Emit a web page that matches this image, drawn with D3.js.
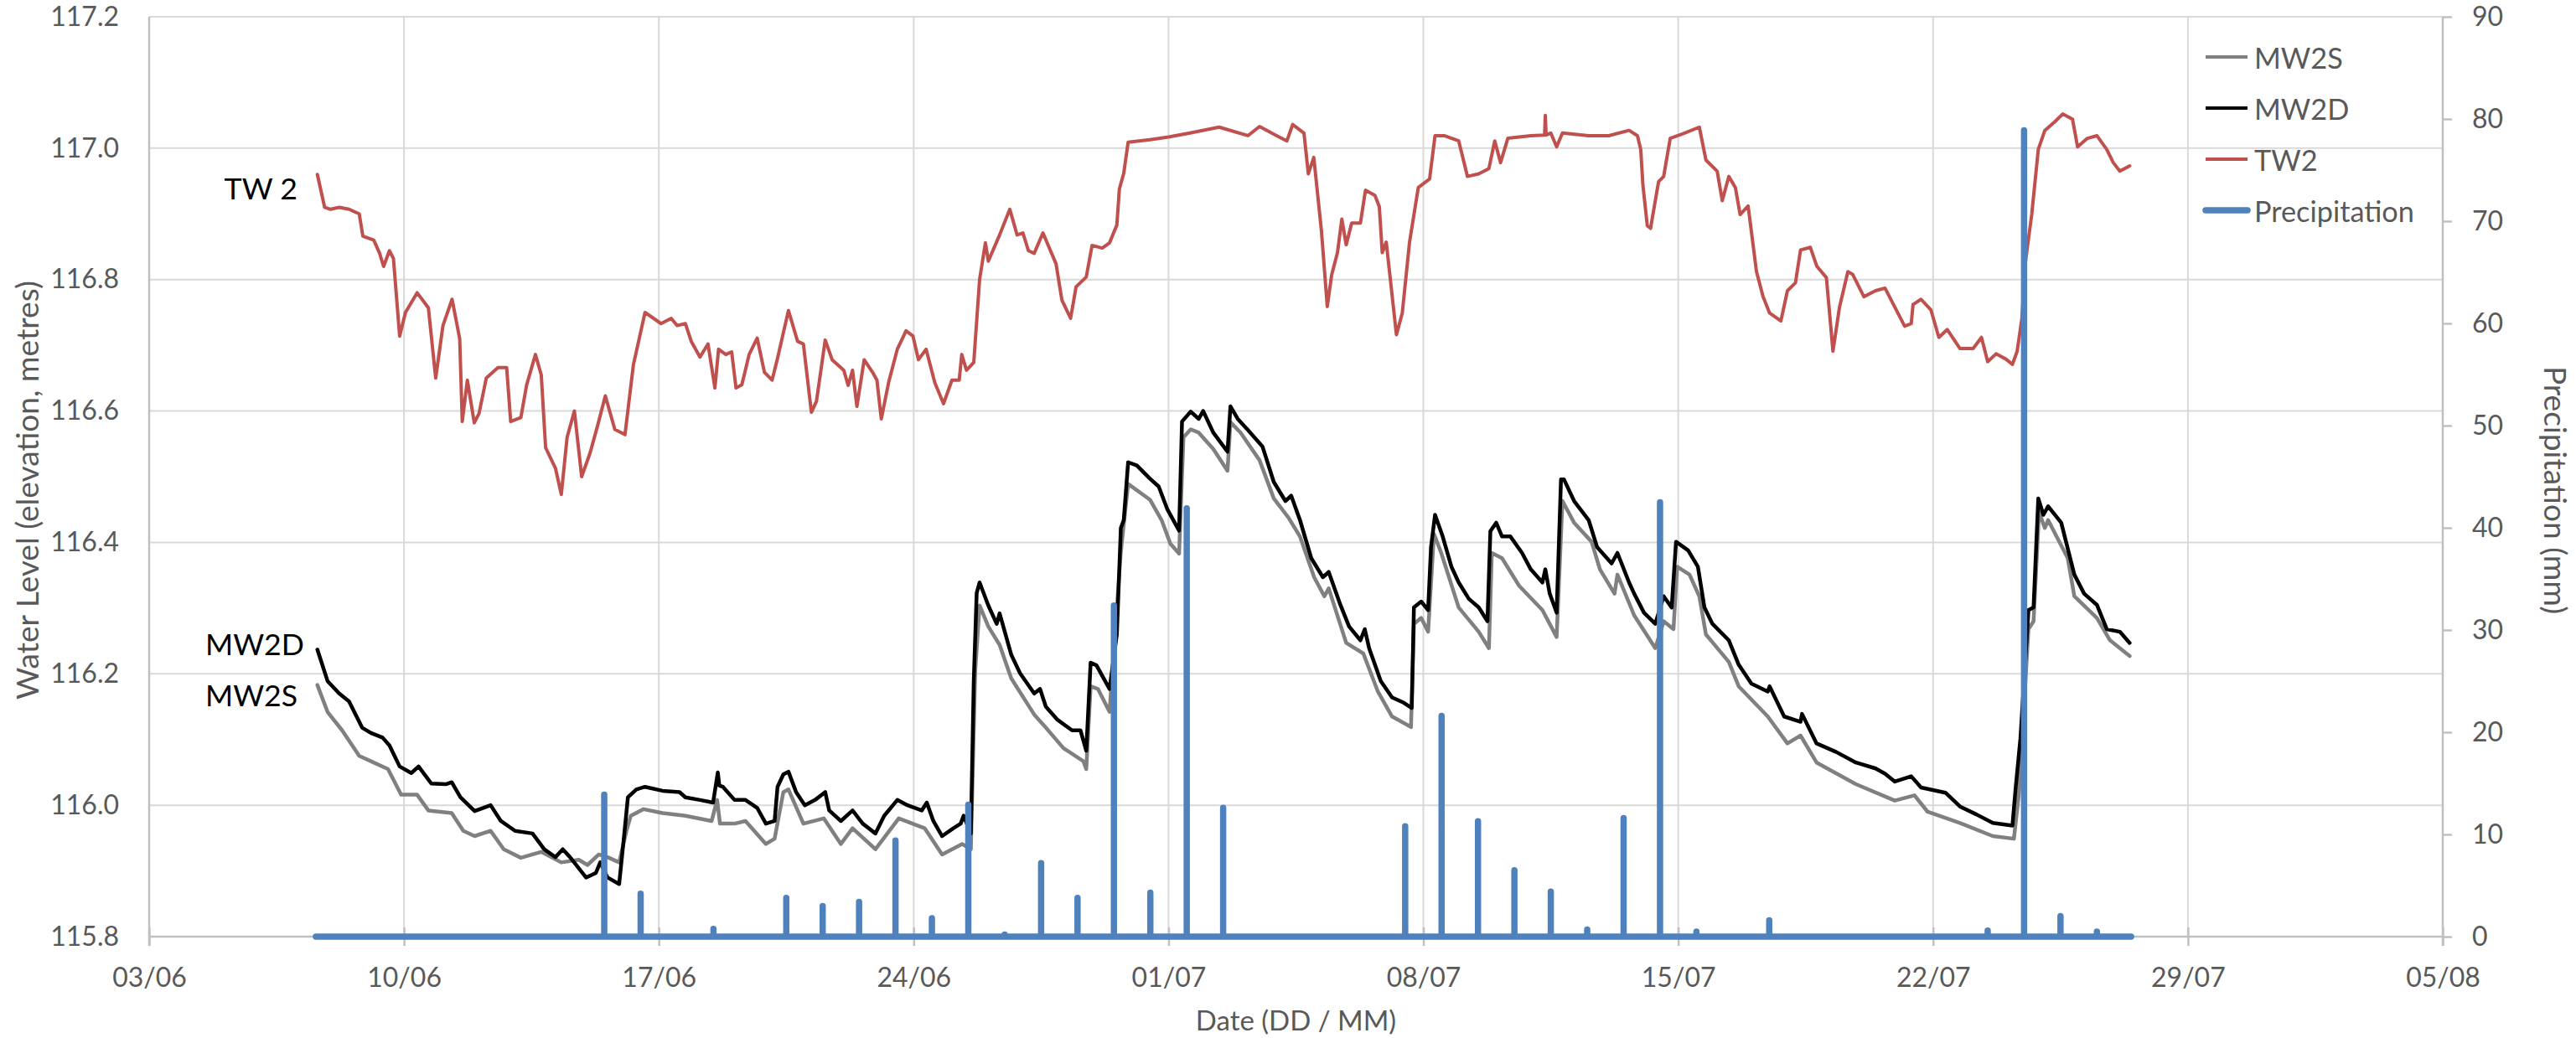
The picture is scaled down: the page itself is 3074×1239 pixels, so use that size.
<!DOCTYPE html>
<html>
<head>
<meta charset="utf-8">
<script src="https://cdn.jsdelivr.net/npm/d3@7"></script>
<style>
  html, body { margin: 0; padding: 0; background: #fff; }
  svg { display: block; }
  text { font-family: Lato, "Open Sans", sans-serif; }
</style>
</head>
<body>
<svg id="chart" width="3074" height="1239"></svg>
<script>
// ---------------- DATA ----------------
const year = 2015;
const xTickLabels = ["03/06","10/06","17/06","24/06","01/07","08/07","15/07","22/07","29/07","05/08"];
const levelTicks = [115.8,116.0,116.2,116.4,116.6,116.8,117.0,117.2];
const precipTicks = [0,10,20,30,40,50,60,70,80,90];

// Logger readings: [elapsed days since 03/06 00:00, water level (m)]
const tw2 = [
 [4.62,116.96],[4.82,116.91],[4.98,116.907],[5.22,116.91],[5.49,116.907],[5.77,116.90],[5.87,116.866],
 [6.17,116.86],[6.33,116.84],[6.44,116.82],[6.6,116.844],[6.71,116.832],[6.88,116.714],[7.04,116.75],
 [7.36,116.78],[7.67,116.757],[7.87,116.65],[8.07,116.73],[8.32,116.77],[8.53,116.71],[8.6,116.584],
 [8.74,116.647],[8.93,116.582],[9.06,116.596],[9.26,116.65],[9.58,116.666],[9.82,116.666],[9.93,116.584],
 [10.21,116.59],[10.37,116.64],[10.61,116.686],[10.77,116.655],[10.89,116.544],[11.16,116.513],[11.32,116.473],
 [11.48,116.56],[11.68,116.60],[11.88,116.50],[12.11,116.536],[12.31,116.576],[12.53,116.623],[12.79,116.572],
 [13.07,116.564],[13.30,116.67],[13.62,116.75],[14.06,116.733],[14.34,116.741],[14.5,116.73],[14.73,116.733],
 [14.89,116.706],[15.13,116.682],[15.35,116.702],[15.54,116.635],[15.64,116.694],[15.84,116.686],[16.0,116.69],
 [16.12,116.635],[16.28,116.64],[16.48,116.686],[16.70,116.711],[16.9,116.659],[17.11,116.647],[17.25,116.678],
 [17.56,116.753],[17.81,116.706],[17.97,116.702],[18.19,116.598],[18.33,116.615],[18.57,116.708],[18.76,116.678],
 [19.08,116.662],[19.2,116.639],[19.32,116.662],[19.44,116.607],[19.64,116.678],[19.87,116.659],[19.99,116.647],
 [20.11,116.588],[20.31,116.643],[20.55,116.694],[20.79,116.722],[20.98,116.714],[21.13,116.678],[21.34,116.694],
 [21.58,116.643],[21.82,116.611],[22.05,116.647],[22.25,116.647],[22.32,116.686],[22.45,116.662],[22.65,116.674],
 [22.81,116.80],[22.97,116.856],[23.05,116.828],[23.36,116.868],[23.64,116.907],[23.84,116.868],[24.0,116.871],
 [24.15,116.844],[24.31,116.84],[24.55,116.871],[24.91,116.824],[25.07,116.769],[25.31,116.741],[25.46,116.789],
 [25.74,116.804],[25.9,116.852],[26.18,116.848],[26.38,116.856],[26.58,116.883],[26.65,116.938],[26.77,116.962],
 [26.89,117.009],[27.49,117.013],[28.0,117.017],[28.59,117.023],[29.39,117.032],[30.18,117.019],[30.5,117.033],
 [30.97,117.019],[31.25,117.011],[31.41,117.036],[31.72,117.023],[31.84,116.961],[31.99,116.986],[32.2,116.874],
 [32.36,116.759],[32.48,116.807],[32.64,116.841],[32.76,116.892],[32.88,116.853],[33.03,116.886],[33.27,116.886],
 [33.41,116.936],[33.67,116.928],[33.79,116.911],[33.87,116.841],[33.98,116.857],[34.26,116.716],[34.42,116.749],
 [34.62,116.857],[34.86,116.94],[35.17,116.953],[35.32,117.019],[35.57,117.019],[35.97,117.011],[36.21,116.957],
 [36.52,116.961],[36.8,116.969],[36.96,117.011],[37.12,116.978],[37.32,117.015],[37.95,117.019],[38.33,117.02],
 [38.35,117.05],[38.37,117.02],[38.5,117.023],[38.66,117.002],[38.82,117.023],[39.54,117.019],[40.09,117.019],
 [40.65,117.027],[40.88,117.019],[40.97,116.998],[41.03,116.944],[41.15,116.882],[41.24,116.878],[41.46,116.949],
 [41.6,116.957],[41.78,117.015],[42.13,117.022],[42.58,117.032],[42.76,116.982],[43.07,116.965],[43.21,116.92],
 [43.39,116.957],[43.57,116.94],[43.7,116.899],[43.92,116.912],[44.15,116.812],[44.33,116.774],[44.51,116.749],
 [44.82,116.737],[45.0,116.783],[45.22,116.795],[45.36,116.845],[45.63,116.849],[45.81,116.82],[46.07,116.803],
 [46.25,116.691],[46.43,116.758],[46.66,116.812],[46.79,116.808],[47.1,116.774],[47.42,116.783],[47.68,116.787],
 [47.95,116.758],[48.22,116.729],[48.4,116.733],[48.45,116.762],[48.67,116.77],[48.94,116.754],[49.16,116.712],
 [49.39,116.724],[49.74,116.695],[50.1,116.695],[50.33,116.712],[50.5,116.675],[50.73,116.687],[51.0,116.679],
 [51.18,116.671],[51.31,116.691],[51.44,116.741],[51.53,116.824],[51.71,116.899],[51.89,116.998],[52.07,117.027],
 [52.34,117.04],[52.56,117.052],[52.83,117.044],[52.97,117.002],[53.24,117.015],[53.5,117.019],[53.77,116.998],
 [53.95,116.978],[54.13,116.965],[54.4,116.973]
];

const mw2d = [
 [4.62,116.237],[4.9,116.189],[5.22,116.17],[5.49,116.158],[5.85,116.118],[6.09,116.11],[6.41,116.103],
 [6.6,116.091],[6.88,116.059],[7.2,116.049],[7.4,116.059],[7.75,116.033],[8.15,116.032],[8.31,116.035],
 [8.55,116.012],[8.94,115.991],[9.38,116.0],[9.66,115.976],[10.05,115.961],[10.53,115.957],[10.85,115.933],
 [11.16,115.921],[11.36,115.933],[11.56,115.921],[12.0,115.89],[12.27,115.897],[12.39,115.913],[12.59,115.89],
 [12.91,115.88],[13.03,115.945],[13.15,116.012],[13.38,116.024],[13.62,116.028],[14.1,116.022],[14.57,116.02],
 [14.73,116.012],[15.13,116.008],[15.49,116.004],[15.62,116.05],[15.66,116.03],[15.76,116.028],[16.08,116.008],
 [16.38,116.008],[16.70,115.996],[16.94,115.972],[17.18,115.976],[17.26,116.028],[17.42,116.047],[17.56,116.051],
 [17.77,116.02],[18.01,116.0],[18.29,116.008],[18.57,116.02],[18.68,115.992],[19.0,115.976],[19.32,115.992],
 [19.6,115.972],[19.95,115.957],[20.19,115.984],[20.55,116.008],[20.83,116.0],[21.22,115.992],[21.36,116.004],
 [21.54,115.976],[21.78,115.953],[22.09,115.965],[22.29,115.972],[22.37,115.984],[22.57,115.957],[22.65,116.189],
 [22.73,116.323],[22.81,116.339],[23.05,116.304],[23.28,116.276],[23.36,116.292],[23.68,116.229],[23.92,116.201],
 [24.31,116.17],[24.47,116.177],[24.63,116.15],[24.95,116.13],[25.35,116.114],[25.58,116.114],[25.74,116.083],
 [25.86,116.217],[26.02,116.213],[26.3,116.185],[26.38,116.177],[26.58,116.26],[26.69,116.422],[26.77,116.434],
 [26.89,116.522],[27.13,116.517],[27.49,116.497],[27.73,116.485],[27.97,116.45],[28.29,116.418],[28.37,116.584],
 [28.61,116.599],[28.83,116.588],[28.95,116.6],[29.23,116.567],[29.46,116.55],[29.62,116.538],[29.7,116.607],
 [29.9,116.588],[30.18,116.571],[30.58,116.546],[30.89,116.492],[31.21,116.463],[31.37,116.471],[31.61,116.434],
 [31.92,116.376],[32.24,116.347],[32.4,116.355],[32.72,116.305],[32.96,116.272],[33.27,116.251],[33.39,116.268],
 [33.51,116.239],[33.83,116.189],[34.14,116.164],[34.46,116.156],[34.68,116.148],[34.74,116.301],[34.94,116.31],
 [35.13,116.297],[35.21,116.393],[35.32,116.442],[35.53,116.409],[35.77,116.363],[35.97,116.339],[36.25,116.314],
 [36.52,116.301],[36.76,116.28],[36.84,116.417],[37.0,116.43],[37.16,116.409],[37.39,116.409],[37.71,116.384],
 [37.95,116.359],[38.27,116.339],[38.35,116.359],[38.47,116.322],[38.66,116.293],[38.78,116.496],[38.86,116.496],
 [39.14,116.463],[39.54,116.434],[39.77,116.393],[40.17,116.368],[40.33,116.384],[40.65,116.339],[40.79,116.322],
 [41.06,116.293],[41.37,116.276],[41.6,116.318],[41.82,116.301],[41.94,116.401],[42.27,116.388],[42.54,116.363],
 [42.72,116.301],[42.94,116.276],[43.39,116.251],[43.66,116.214],[44.01,116.185],[44.46,116.173],[44.51,116.181],
 [44.91,116.135],[45.36,116.127],[45.4,116.139],[45.8,116.094],[46.34,116.081],[46.88,116.065],[47.42,116.056],
 [47.68,116.048],[47.95,116.036],[48.4,116.044],[48.67,116.027],[49.34,116.019],[49.74,115.998],[50.19,115.986],
 [50.64,115.973],[51.18,115.969],[51.27,116.027],[51.4,116.102],[51.62,116.297],[51.76,116.301],[51.89,116.467],
 [52.03,116.442],[52.16,116.455],[52.52,116.43],[52.88,116.351],[53.15,116.322],[53.5,116.305],[53.77,116.268],
 [54.13,116.264],[54.4,116.247]
];

const mw2s = [
 [4.62,116.183],[4.9,116.142],[5.3,116.114],[5.77,116.075],[6.09,116.067],[6.56,116.055],[6.92,116.016],
 [7.36,116.016],[7.67,115.992],[8.31,115.988],[8.63,115.961],[8.94,115.953],[9.38,115.961],[9.74,115.933],
 [10.21,115.92],[10.77,115.929],[11.32,115.913],[11.8,115.917],[12.04,115.909],[12.35,115.925],[12.59,115.921],
 [12.91,115.913],[13.11,115.961],[13.23,115.984],[13.58,115.994],[14.1,115.988],[14.73,115.984],[15.45,115.976],
 [15.6,116.008],[15.68,115.972],[16.08,115.972],[16.38,115.976],[16.94,115.941],[17.18,115.949],[17.42,116.02],
 [17.56,116.024],[17.97,115.972],[18.53,115.98],[19.0,115.941],[19.32,115.965],[19.95,115.933],[20.59,115.98],
 [21.3,115.965],[21.78,115.925],[22.33,115.941],[22.57,115.933],[22.69,116.205],[22.81,116.304],[23.05,116.272],
 [23.36,116.244],[23.68,116.193],[24.31,116.138],[24.63,116.118],[25.11,116.087],[25.66,116.067],[25.74,116.055],
 [25.86,116.181],[26.06,116.177],[26.38,116.142],[26.69,116.386],[26.89,116.489],[27.49,116.465],[27.81,116.434],
 [28.05,116.398],[28.29,116.383],[28.41,116.56],[28.61,116.572],[28.83,116.567],[29.23,116.542],[29.62,116.509],
 [29.7,116.583],[29.98,116.567],[30.5,116.525],[30.89,116.467],[31.29,116.438],[31.61,116.409],[32.0,116.347],
 [32.28,116.318],[32.4,116.33],[32.88,116.247],[33.35,116.231],[33.75,116.173],[34.14,116.135],[34.66,116.119],
 [34.74,116.276],[34.94,116.285],[35.13,116.264],[35.29,116.413],[35.49,116.384],[35.97,116.301],[36.52,116.264],
 [36.8,116.239],[36.88,116.384],[37.16,116.376],[37.63,116.334],[38.27,116.297],[38.66,116.256],[38.82,116.463],
 [39.14,116.43],[39.62,116.401],[39.85,116.359],[40.25,116.322],[40.33,116.351],[40.79,116.289],[41.37,116.239],
 [41.6,116.28],[41.87,116.268],[41.97,116.363],[42.31,116.351],[42.58,116.318],[42.76,116.26],[43.39,116.218],
 [43.66,116.181],[44.46,116.135],[45.0,116.094],[45.36,116.106],[45.8,116.065],[46.88,116.032],[47.95,116.007],
 [48.49,116.015],[48.85,115.99],[49.74,115.973],[50.64,115.953],[51.22,115.949],[51.36,116.019],[51.62,116.268],
 [51.76,116.28],[51.91,116.446],[52.07,116.422],[52.16,116.434],[52.7,116.376],[52.88,116.318],[53.5,116.285],
 [53.86,116.251],[54.4,116.227]
];

// Daily precipitation (mm), plotted at noon of each day
const precipDates = ["15/06","16/06","18/06","20/06","21/06","22/06","23/06","24/06","25/06","26/06",
  "27/06","28/06","29/06","30/06","01/07","02/07","07/07","08/07","09/07","10/07",
  "11/07","12/07","13/07","14/07","15/07","17/07","23/07","24/07","25/07","26/07"];
const precipMM = [13.9,4.2,0.75,3.8,3.0,3.4,9.4,1.8,12.9,0.2,
  7.2,3.8,32.4,4.3,41.9,12.6,10.8,21.6,11.3,6.5,
  4.4,0.7,11.6,42.5,0.5,1.6,0.6,78.9,2.0,0.5];
const recordSpan = [4.58, 54.44]; // first / last logged reading, days since 03/06

const seriesNames = ["MW2S","MW2D","TW2","Precipitation"];
const seriesColors = ["#808080","#000000","#C0504D","#4F81BD"];

// ---------------- CHART ----------------
const m = {left: 178, right: 2915, top: 20, bottom: 1118};
const svg = d3.select("#chart");
const parseDM = s => d3.timeParse("%d/%m/%Y")(s + "/" + year);
const t0 = parseDM("03/06");
const dayToDate = d => new Date(t0.getTime() + d * 86400000);

const x = d3.scaleTime().domain([parseDM(xTickLabels[0]), parseDM(xTickLabels[xTickLabels.length-1])]).range([m.left, m.right]);
const yL = d3.scaleLinear().domain([115.8, 117.2]).range([m.bottom, m.top]);
const yR = d3.scaleLinear().domain([0, 90]).range([m.bottom, m.top]);
const xTicks = xTickLabels.map(parseDM);

const gridColor = "#d9d9d9", axisColor = "#c0c0c0", labelColor = "#595959";

// gridlines
svg.append("g").selectAll("line").data(levelTicks).join("line")
  .attr("x1", m.left).attr("x2", m.right)
  .attr("y1", d => yL(d)).attr("y2", d => yL(d))
  .attr("stroke", gridColor).attr("stroke-width", 2);
svg.append("g").selectAll("line").data(xTicks).join("line")
  .attr("x1", d => x(d)).attr("x2", d => x(d))
  .attr("y1", m.top).attr("y2", m.bottom)
  .attr("stroke", gridColor).attr("stroke-width", 2);

// axes
const fmt1 = d3.format(".1f");
const gx = svg.append("g").attr("transform", `translate(0,${m.bottom})`)
  .call(d3.axisBottom(x).tickValues(xTicks).tickFormat((d,i) => xTickLabels[i]).tickSize(11).tickPadding(26));
const gl = svg.append("g").attr("transform", `translate(${m.left},0)`)
  .call(d3.axisLeft(yL).tickValues(levelTicks).tickFormat(fmt1).tickSize(0).tickPadding(36));
const gr = svg.append("g").attr("transform", `translate(${m.right},0)`)
  .call(d3.axisRight(yR).tickValues(precipTicks).tickSize(11).tickPadding(24));
[gx, gl, gr].forEach(g => {
  g.select(".domain").attr("stroke", axisColor).attr("stroke-width", 2.5);
  g.selectAll(".tick line").attr("stroke", axisColor).attr("stroke-width", 2.5);
  g.selectAll(".tick text").attr("fill", labelColor).attr("font-size", 32)
    .attr("font-family", "Lato, sans-serif");
});
gx.selectAll(".tick line").attr("y1", -11);
gx.select(".domain").attr("d", `M${m.left},0H${m.right}`);
gl.select(".domain").attr("d", `M0,${m.top}V${m.bottom + 11}`);
gr.select(".domain").attr("d", `M0,${m.top}V${m.bottom + 11}`);

// level lines
const lvlLine = d3.line().x(d => x(dayToDate(d[0]))).y(d => yL(d[1]));
const drawSeries = (data, color, w) => svg.append("path").datum(data)
  .attr("d", lvlLine).attr("fill", "none").attr("stroke", color)
  .attr("stroke-width", w).attr("stroke-linejoin", "round").attr("stroke-linecap", "round");
drawSeries(mw2s, seriesColors[0], 4.5);
drawSeries(mw2d, seriesColors[1], 4.5);
drawSeries(tw2, seriesColors[2], 4);

// precipitation as a spiky line on the secondary axis
const precipPts = [[dayToDate(recordSpan[0]), 0]];
precipDates.forEach((s, i) => {
  const t = d3.timeHour.offset(parseDM(s), 12);
  precipPts.push([t, 0], [t, precipMM[i]], [t, 0]);
});
precipPts.push([dayToDate(recordSpan[1]), 0]);
svg.append("path").datum(precipPts)
  .attr("d", d3.line().x(d => x(d[0])).y(d => yR(d[1])))
  .attr("fill", "none").attr("stroke", seriesColors[3]).attr("stroke-width", 7.5)
  .attr("stroke-linejoin", "round").attr("stroke-linecap", "round");

function fit(sel, target) {
  const fs = +sel.attr("font-size");
  const w = sel.node().getComputedTextLength();
  sel.attr("font-size", fs * target / w);
  return +sel.attr("font-size");
}

// axis titles
svg.append("text").attr("x", (m.left + m.right) / 2).attr("y", 1230)
  .attr("text-anchor", "middle")
  .attr("fill", labelColor).attr("font-size", 33).text("Date (DD / MM)");
const ylt = svg.append("text").attr("transform", "translate(31,585) rotate(-90)")
  .attr("text-anchor", "middle").attr("dominant-baseline", "central")
  .attr("fill", labelColor).attr("font-size", 34).text("Water Level (elevation, metres)");
const tfs = fit(ylt, 500);
svg.append("text").attr("transform", "translate(3050,585) rotate(90)")
  .attr("text-anchor", "middle").attr("dominant-baseline", "central")
  .attr("fill", labelColor).attr("font-size", tfs).text("Precipitation (mm)");

// legend
const lg = svg.append("g");
seriesNames.forEach((name, i) => {
  const yy = 68 + i * 61;
  lg.append("line").attr("x1", 2632).attr("x2", 2682).attr("y1", yy).attr("y2", yy)
    .attr("stroke", seriesColors[i]).attr("stroke-width", i === 3 ? 7.5 : 4)
    .attr("stroke-linecap", i === 3 ? "round" : "butt");
  const t = lg.append("text").attr("x", 2690).attr("y", yy).attr("dominant-baseline", "central")
    .attr("fill", labelColor).attr("font-size", 34).text(name);
  if (i === 3) fit(t, 191);
});
const lfs = +lg.selectAll("text").filter((d,i) => i === 3).attr("font-size");
lg.selectAll("text").attr("font-size", lfs);

// in-chart labels
const a1 = svg.append("text").attr("x", 355).attr("y", 238).attr("text-anchor", "end")
  .attr("fill", "#000").attr("font-size", 37).text("TW 2");
const a2 = svg.append("text").attr("x", 245).attr("y", 782)
  .attr("fill", "#000").attr("font-size", 37).text("MW2D");
const afs = fit(a2, 118);
a1.attr("font-size", afs);
svg.append("text").attr("x", 245).attr("y", 843)
  .attr("fill", "#000").attr("font-size", afs).text("MW2S");
</script>
</body>
</html>
